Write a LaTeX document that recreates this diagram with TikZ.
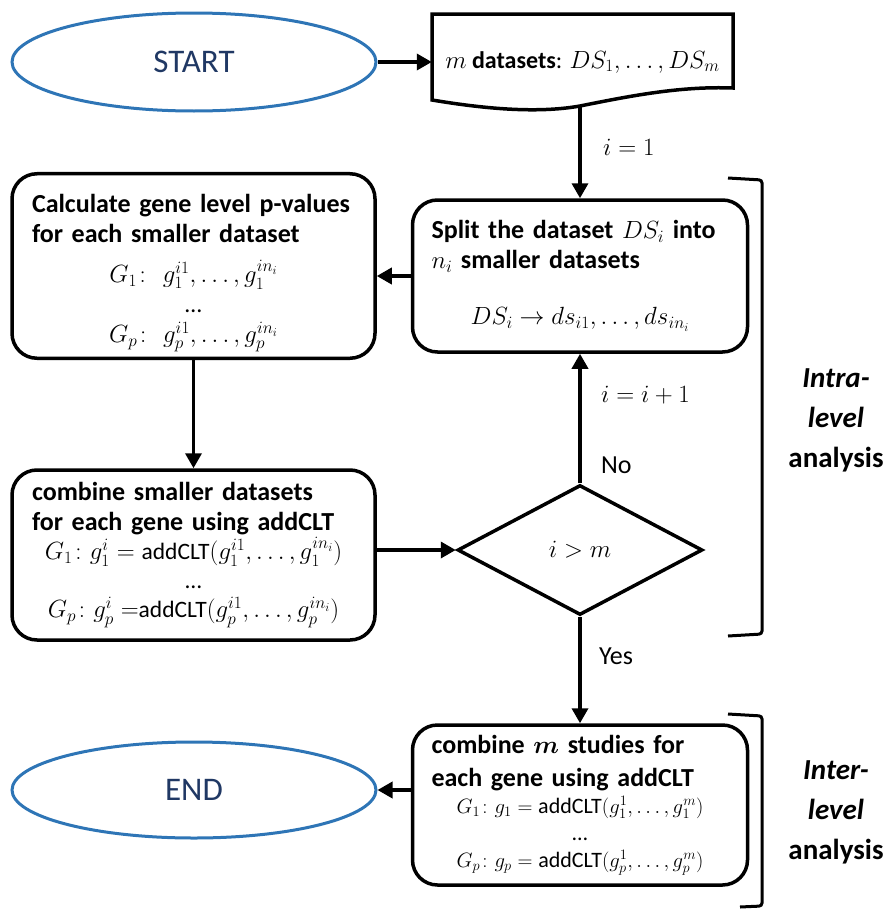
\documentclass[tikz,border=0pt]{standalone}
\usepackage{amssymb}
\usepackage{amsmath}
\usepackage{fontspec}
\setmainfont{Carlito}
\usetikzlibrary{shapes.geometric,arrows.meta}
\definecolor{ovalblue}{RGB}{46,117,182}
\definecolor{navytext}{RGB}{32,56,100}

\begin{document}
\begin{tikzpicture}[x=1pt, y=-1pt,
        every node/.style={font=\fontsize{26}{30}\selectfont},
        terminal/.style={ellipse, draw=ovalblue, line width=3pt, minimum width=364, minimum height=98, text=navytext, font=\fontsize{33}{38}\selectfont},
        procbox/.style={draw, line width=3.5pt, rounded corners=25, align=left, inner ysep=6},
        arr/.style={line width=3.5pt, -{Triangle[length=15pt, width=16pt]}},
        bracketline/.style={line width=3pt, rounded corners=3},
        sidelabel/.style={align=center, font=\fontsize{29}{40}\selectfont\bfseries}]
    \useasboundingbox (0,0) rectangle (888,910);
    \node[terminal] (start) at (194,62) {START};
    \node[minimum width=301, minimum height=96, inner sep=0, font=\fontsize{24}{30}\selectfont] (data) at (582.5,62) {$m$ \textbf{datasets}: $DS_1, \dots, DS_m$};
    \draw[line width=3.5pt] (432,100) -- (432,14) -- (733,14) -- (733,88) .. controls (680,86) and (630,96) .. (580,106) coordinate (databot) .. controls (535,114) and (480,108) .. (432,100) -- cycle;
    \node[procbox, text width=297, inner xsep=19, minimum height=152] (split) at (580,276) {\textbf{Split the dataset} $DS_i$ \textbf{into}\\ $n_i$ \textbf{smaller datasets}\par\vspace{26pt}\centering\fontsize{24}{30}\selectfont $DS_i \rightarrow ds_{i1}, \dots, ds_{in_i}$\par};
    \node[procbox, text width=323, inner xsep=20, minimum height=172] (calc) at (193.5,266) {\rule{0pt}{33pt}\textbf{Calculate gene level p-values}\\ \textbf{for each smaller dataset}\par\vspace{10pt}\centering\fontsize{24}{30}\selectfont $G_1\colon\ g_1^{i1}, \dots, g_1^{in_i}$\\ \dots\\ $G_p\colon\ g_p^{i1}, \dots, g_p^{in_i}$\par\vskip-21pt};
    \node[procbox, text width=323, inner xsep=20, minimum height=170] (comb) at (193.5,555) {\textbf{combine smaller datasets}\\ \textbf{for each gene using addCLT}\par\centering\fontsize{23.5}{29}\selectfont $G_1\colon g_1^i = {}$addCLT$(g_1^{i1}, \dots, g_1^{in_i})$\\ \dots\\ $G_p\colon g_p^i =$addCLT$(g_p^{i1}, \dots, g_p^{in_i})$\par};
    \node[diamond, draw, line width=3.5pt, minimum width=245, minimum height=130, inner sep=0, font=\fontsize{24}{30}\selectfont] (dec) at (580,550) {$i > m$};
    \node[procbox, text width=297, inner xsep=19, minimum height=160] (fin) at (580,805) {\textbf{combine {\boldmath$m$} studies for}\\[3pt] \textbf{each gene using addCLT}\par\centering\fontsize{22}{27}\selectfont $G_1\colon g_1 = {}$addCLT$(g_1^1, \dots, g_1^m)$\\ \dots\\ $G_p\colon g_p = {}$addCLT$(g_p^1, \dots, g_p^m)$\par};
    \node[terminal, minimum height=96] (stop) at (194,790) {END};
    \draw[arr] (start) -- (data.west);
    \draw[arr] (databot) -- (split.north) node[pos=0.45, anchor=west, xshift=18] {$i = 1$};
    \draw[arr] (split.west) -- (split.west -| calc.east);
    \draw[arr] (calc) -- (comb);
    \draw[arr] (comb.east |- dec.west) -- (dec.west);
    \draw[arr] (dec.north) -- (split.south) node[pos=0.14, anchor=west, xshift=16] {No} node[pos=0.68, anchor=west, xshift=16] {$i = i + 1$};
    \draw[arr] (dec.south) -- (fin.north) node[pos=0.37, anchor=west, xshift=14] {Yes};
    \draw[arr] (fin.west |- stop) -- (stop.east);
    \draw[bracketline] (728,178) -- (762,180) -- (762,634) -- (728,636);
    \draw[bracketline] (728,714) -- (762,716) -- (762,906) -- (740,907);
    \node[sidelabel] (intra) at (836,420) {\textit{Intra-}\\\textit{level}\\analysis};
    \node[sidelabel] (inter) at (836,812) {\textit{Inter-}\\\textit{level}\\analysis};
\end{tikzpicture}
\end{document}
